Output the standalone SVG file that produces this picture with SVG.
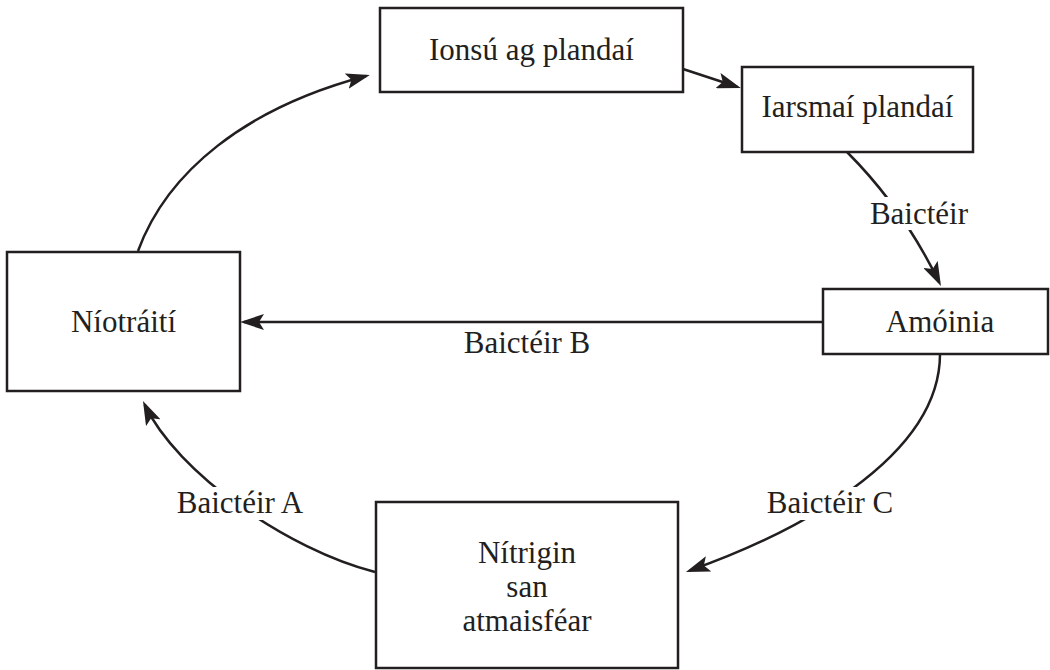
<svg xmlns="http://www.w3.org/2000/svg" width="1050" height="670" viewBox="0 0 1050 670">
<defs>
<style>
.box{fill:#fff;stroke:#231f20;stroke-width:2.5}
.lbl{font-family:"Liberation Serif","Times New Roman",serif;font-size:31px;fill:#231f20;text-anchor:middle}
.con{fill:none;stroke:#231f20;stroke-width:2.5;marker-end:url(#ah)}
.bg{fill:#fff;stroke:none}
</style>
<marker id="ah" viewBox="0 0 24 16" refX="20" refY="8" markerWidth="24" markerHeight="16" markerUnits="userSpaceOnUse" orient="auto">
<path d="M0,0 L24,8 L0,16 L5,8 z" fill="#231f20"/>
</marker>
</defs>
<rect width="1050" height="670" fill="#fff"/>
<g id="connectors">
<path class="con" d="M138,251 C167,172 245,108 366,76"/>
<path class="con" d="M683,69 L737,86.8"/>
<path class="con" d="M847,152 Q903,208 939.2,282.4"/>
<path class="con" d="M823,322 L244,322"/>
<path class="con" d="M940,354 C940,460 790,535 689.7,570.6"/>
<path class="con" d="M375,572 C288,550 177,473 144.7,404.6"/>
<rect class="bg" x="866" y="197" width="104" height="33"/>
<rect class="bg" x="765" y="487" width="132" height="33"/>
<rect class="bg" x="174" y="487" width="132" height="33"/>
<text class="lbl" x="919" y="224">Baictéir</text>
<text class="lbl" x="527" y="353">Baictéir B</text>
<text class="lbl" x="830" y="513">Baictéir C</text>
<text class="lbl" x="240" y="513">Baictéir A</text>
</g>
<g id="ionsu">
<rect class="box" x="380" y="8" width="303" height="84"/>
<text class="lbl" x="531.5" y="60">Ionsú ag plandaí</text>
</g>
<g id="iarsmai">
<rect class="box" x="742" y="67" width="231" height="85"/>
<text class="lbl" x="857.5" y="117">Iarsmaí plandaí</text>
</g>
<g id="amoinia">
<rect class="box" x="823" y="289" width="225" height="65"/>
<text class="lbl" x="940" y="332">Amóinia</text>
</g>
<g id="niotraiti">
<rect class="box" x="7" y="252" width="233" height="139"/>
<text class="lbl" x="123.5" y="332">Níotráití</text>
</g>
<g id="nitrigin">
<rect class="box" x="376" y="502" width="302" height="166"/>
<text class="lbl" x="527" y="563">Nítrigin</text>
<text class="lbl" x="527" y="597">san</text>
<text class="lbl" x="527" y="631">atmaisféar</text>
</g>
</svg>
